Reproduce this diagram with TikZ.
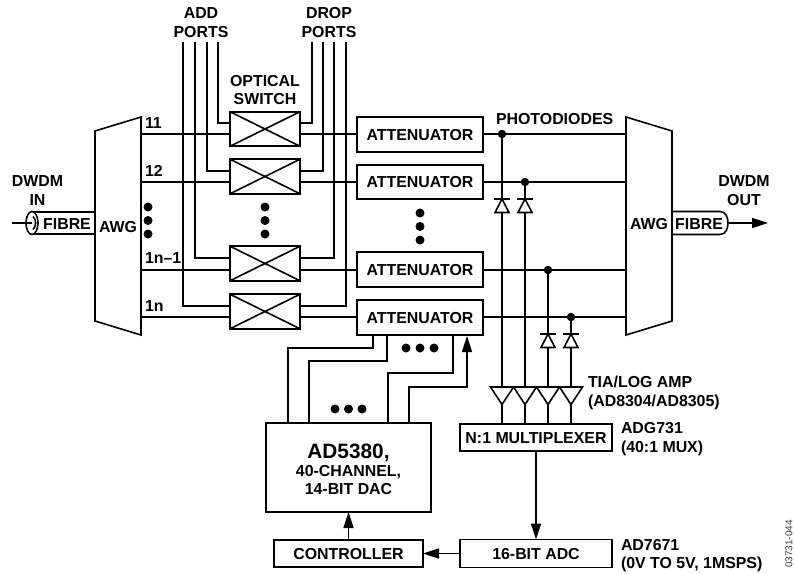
\documentclass[tikz,border=0pt]{standalone}
\usepackage{fontspec}
\setmainfont{Liberation Sans}
\usetikzlibrary{arrows.meta,calc,shapes.geometric}
\tikzset{
  ln/.style={line width=1.6pt,line cap=butt,line join=miter},
  boxn/.style={draw,line width=1.7pt,inner sep=0pt,outer sep=0pt,align=center},
  lab/.style={inner sep=0pt,outer sep=0pt,font=\fontsize{15.9}{18}\selectfont\bfseries,text height=11.4pt,text depth=0pt},
  arr/.style={ln,-{Triangle[length=16pt,width=10pt]}},
  dotc/.style={fill=black,circle,inner sep=0pt,minimum size=9pt},
  jun/.style={fill=black,circle,inner sep=0pt,minimum size=8.5pt},
}
\newcommand{\swbox}[2]{%
  \node[boxn,minimum width=70pt,minimum height=34.5pt] (#1) at (265,#2) {};
  \draw[ln] (#1.north west) -- (#1.south east) (#1.north east) -- (#1.south west);}
\newcommand{\atbox}[2]{%
  \node[boxn,minimum width=126pt,minimum height=34.5pt,lab] (#1) at (420,#2) {ATTENUATOR};}
\newcommand{\diodeat}[3]{% name x ytop
  \coordinate (#1) at (#2,#3);
  \draw[ln] ($(#1)+(-8,0)$) -- ($(#1)+(8,0)$);
  \draw[ln,fill=white] ($(#1)+(0,0)$) -- ($(#1)+(7,13.5)$) -- ($(#1)+(-7,13.5)$) -- cycle;}
\newcommand{\ampat}[2]{% name x
  \coordinate (#1) at (#2,387);
  \draw[ln] ($(#1)+(-11.5,0)$) -- ($(#1)+(11.5,0)$) -- ($(#1)+(0,17.5)$) -- cycle;}
\begin{document}
\begin{tikzpicture}[x=1pt,y=-1pt]
\useasboundingbox (0,0) rectangle (795,573);
% AWGs
\coordinate (lt) at (141,117);
\coordinate (lb) at (141,335);
\draw[ln] (95,131) -- (lt) -- (lb) -- (95,321) -- cycle;
\coordinate (rt) at (626,117);
\coordinate (rb) at (626,335);
\draw[ln] (672,131) -- (rt) -- (rb) -- (672,321) -- cycle;
% switches and attenuators
\swbox{sw1}{129}\swbox{sw2}{176.5}\swbox{sw3}{263.5}\swbox{sw4}{311.5}
\atbox{at1}{134.5}\atbox{at2}{182}\atbox{at3}{269.5}\atbox{at4}{317.5}
% channel lines
\coordinate (c1) at (141,134);\coordinate (c2) at (141,182);\coordinate (c3) at (141,270);\coordinate (c4) at (141,317);
\foreach \i/\n in {c1/1,c2/2,c3/3,c4/4}{
  \draw[ln] (\i) -- (\i -| sw\n.west);
  \draw[ln] (\i -| sw\n.east) -- (\i -| at\n.west);
  \draw[ln] (\i -| at\n.east) -- (\i -| rt);
}
% add and drop ports
\foreach \n/\xa/\xd/\yy in {4/183/346/306,3/195/334/258,2/207/323/171,1/218/312/123}{
  \coordinate (add\n) at (\xa,42);
  \coordinate (drop\n) at (\xd,42);
  \draw[ln] (add\n) |- (sw\n.west |- 0,\yy);
  \draw[ln] (drop\n) |- (sw\n.east |- 0,\yy);
}
% photodiodes
\node[jun] (j1) at (502,134) {};
\node[jun] (j2) at (525,182) {};
\node[jun] (j3) at (548,270) {};
\node[jun] (j4) at (571,317) {};
\foreach \j/\x in {1/502,2/525,3/548,4/571}{\ampat{amp\j}{\x}}
\draw[ln] (j1) -- (amp1);
\draw[ln] (j2) -- (amp2);
\draw[ln] (j3) -- (amp3);
\draw[ln] (j4) -- (amp4);
\diodeat{d1}{502}{199}\diodeat{d2}{525}{199}
\diodeat{d3}{548}{334}\diodeat{d4}{571}{334}
% mux, adc, controller, dac
\node[boxn,lab,minimum width=152pt,minimum height=27pt] (mux) at (536,437.5) {N:1 MULTIPLEXER};
\node[boxn,lab,minimum width=152pt,minimum height=28pt] (adc) at (536,553.5) {16-BIT ADC};
\node[boxn,lab,minimum width=149pt,minimum height=27.5pt] (ctl) at (348.5,553.5) {CONTROLLER};
\node[draw,line width=2.2pt,inner sep=0pt,outer sep=0pt,minimum width=165pt,minimum height=89pt] (dac) at (348.5,467.5) {};
\foreach \j/\x in {1/502,2/525,3/548,4/571}{
  \draw[ln] ($(amp\j)+(0,17.5)$) -- (\x,424);
}
\draw[arr] (mux.south -| 536,0) -- (adc.north);
\draw[arr] (adc.west) -- (ctl.east);
\draw[arr] (ctl.north) -- (dac.south);
% DAC lines
\draw[ln] (373,335) -- (373,348) -- (288,348) -- (288,423);
\draw[ln] (387,335) -- (387,361) -- (309,361) -- (309,423);
\draw[ln] (453,335) -- (453,373) -- (388,373) -- (388,423);
\draw[arr] (409,423) -- (409,387) -- (467,387) -- (467,336);
% dots
\foreach \x/\y/\n in {148/207/a,148/220.5/b,148/234/c,265/207/d,265/220.5/e,265/234/f,420/213/g,420/226.5/h,420/240/i,406/348/j,420/348/k,434/348/l,335/409/m,348.5/409/n,362/409/o}{
  \node[dotc] (dot\n) at (\x,\y) {};
}
% fibres
\draw[ln] (95,212) -- (32,212) (95,234) -- (32,234);
\node[draw,ellipse,line width=1.6pt,fill=white,minimum width=12pt,minimum height=23pt,inner sep=0pt] (fibl) at (32,223) {};
\coordinate (finl) at (12,223);
\draw[ln] (finl) -- (fibl.center);
\draw[ln] (33,216.5) .. controls (36.5,220) and (36.5,226) .. (33,229.5);
\coordinate (fr) at (728,223);
\draw[ln] (672,211.5) -- (720,211.5) .. controls (726,211.5) and (728,218) .. (fr) .. controls (728,228) and (726,234.5) .. (720,234.5) -- (672,234.5);
\coordinate (fo) at (768,223);
\draw[arr] (fr) -- (fo);
% labels
\node[lab] (t1) at (201,13) {ADD};
\node[lab] (t2) at (201,32) {PORTS};
\node[lab] (t3) at (329,13) {DROP};
\node[lab] (t4) at (329,32) {PORTS};
\node[lab] (t5) at (265,80.5) {OPTICAL};
\node[lab] (t6) at (265,99) {SWITCH};
\node[lab,anchor=west] (t7) at (145,123) {11};
\node[lab,anchor=west] (t8) at (145,171) {12};
\node[lab,anchor=west] (t9) at (145,258) {1n–1};
\node[lab,anchor=west] (t10) at (145,306) {1n};
\node[lab] (t11) at (37.5,181) {DWDM};
\node[lab] (t12) at (37.5,199.5) {IN};
\node[lab] (t13) at (67,223.5) {FIBRE};
\node[lab] (t14) at (118,227) {AWG};
\node[lab] (t15) at (649,224) {AWG};
\node[lab] (t16) at (699,224) {FIBRE};
\node[lab] (t17) at (744,181) {DWDM};
\node[lab] (t18) at (744,199.5) {OUT};
\node[lab,anchor=west] (t19) at (496,119) {PHOTODIODES};
\node[lab,anchor=west] (t20) at (588,382) {TIA/LOG AMP};
\node[lab,anchor=west] (t21) at (588,400.5) {(AD8304/AD8305)};
\node[lab,anchor=west] (t22) at (621,428) {ADG731};
\node[lab,anchor=west] (t23) at (621,447) {(40:1 MUX)};
\node[lab,anchor=west] (t24) at (621,545) {AD7671};
\node[lab,anchor=west] (t25) at (621,563) {(0V TO 5V, 1MSPS)};
\node[lab,font=\fontsize{20.8}{24}\selectfont\bfseries,text height=15pt] (t26) at (348.5,451) {AD5380,};
\node[lab] (t27) at (348.5,471) {40-CHANNEL,};
\node[lab] (t28) at (348.5,489) {14-BIT DAC};
\node[inner sep=0pt,rotate=90,font=\fontsize{10}{12}\selectfont,text=black!75] (t29) at (789,544) {03731-044};
\end{tikzpicture}
\end{document}
